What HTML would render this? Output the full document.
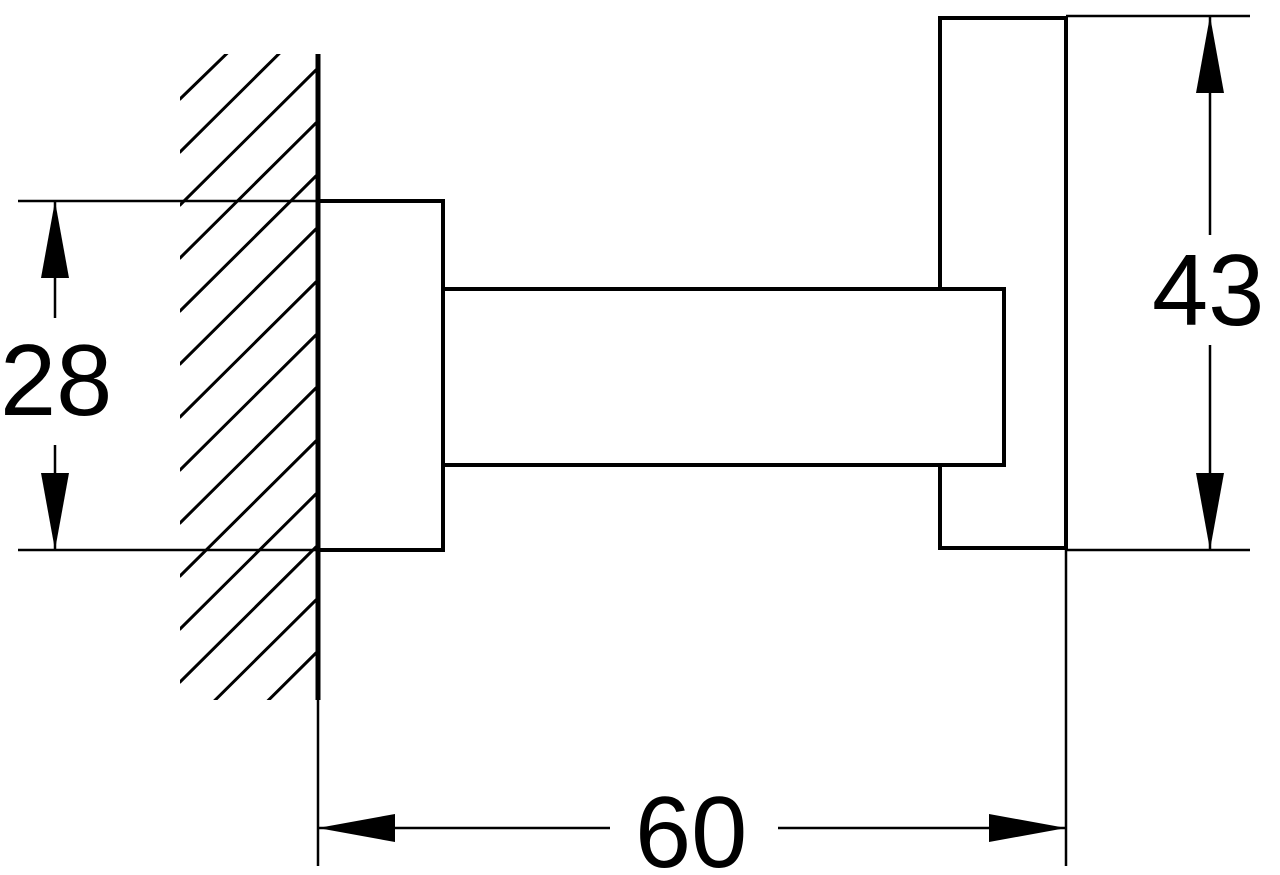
<!DOCTYPE html>
<html><head><meta charset="utf-8"><style>
html,body{margin:0;padding:0;background:#fff;}
svg{display:block;}
text{font-family:"Liberation Sans",sans-serif;font-size:101px;fill:#000;}
</style></head><body>
<svg width="1280" height="875" viewBox="0 0 1280 875" xmlns="http://www.w3.org/2000/svg">
<defs>
<clipPath id="hc"><rect x="180" y="54" width="136" height="646"/></clipPath>
</defs>
<g clip-path="url(#hc)" stroke="#000" stroke-width="3" stroke-linecap="round">
<line x1="180" y1="99" x2="316" y2="-33"/>
<line x1="180" y1="152" x2="316" y2="17"/>
<line x1="180" y1="205" x2="316" y2="70"/>
<line x1="180" y1="258" x2="316" y2="123"/>
<line x1="180" y1="311" x2="316" y2="176"/>
<line x1="180" y1="364" x2="316" y2="229"/>
<line x1="180" y1="417" x2="316" y2="282"/>
<line x1="180" y1="470" x2="316" y2="335"/>
<line x1="180" y1="523" x2="316" y2="388"/>
<line x1="180" y1="576" x2="316" y2="441"/>
<line x1="180" y1="629" x2="316" y2="494"/>
<line x1="180" y1="682" x2="316" y2="547"/>
<line x1="180" y1="735" x2="316" y2="600"/>
<line x1="180" y1="788" x2="316" y2="653"/>
<line x1="180" y1="841" x2="316" y2="706"/>
</g>
<g stroke="#000" fill="none">
<line x1="318" y1="54" x2="318" y2="700" stroke-width="5"/>
<polyline points="318,201 443,201 443,550 318,550" stroke-width="4"/>
<polyline points="443,289 1004,289 1004,465 443,465" stroke-width="4"/>
<polyline points="940,289 940,18 1066,18 1066,548 940,548 940,465" stroke-width="4"/>
<!-- 28 dim -->
<line x1="18" y1="201" x2="318" y2="201" stroke-width="2.5"/>
<line x1="18" y1="550" x2="318" y2="550" stroke-width="2.5"/>
<line x1="55" y1="201" x2="55" y2="318" stroke-width="2.5"/>
<line x1="55" y1="445" x2="55" y2="550" stroke-width="2.5"/>
<!-- 43 dim -->
<line x1="1066" y1="16" x2="1250" y2="16" stroke-width="2.5"/>
<line x1="1066" y1="550" x2="1250" y2="550" stroke-width="2.5"/>
<line x1="1210" y1="16" x2="1210" y2="235" stroke-width="2.5"/>
<line x1="1210" y1="345" x2="1210" y2="550" stroke-width="2.5"/>
<!-- 60 dim -->
<line x1="318" y1="700" x2="318" y2="866" stroke-width="2.5"/>
<line x1="1066" y1="550" x2="1066" y2="866" stroke-width="2.5"/>
<line x1="318" y1="828" x2="610" y2="828" stroke-width="2.5"/>
<line x1="778" y1="828" x2="1066" y2="828" stroke-width="2.5"/>
</g>
<g fill="#000">
<polygon points="55,201 41,278 69,278"/>
<polygon points="55,550 41,473 69,473"/>
<polygon points="1210,16 1196,93 1224,93"/>
<polygon points="1210,550 1196,473 1224,473"/>
<polygon points="318,828 395,814 395,842"/>
<polygon points="1066,828 989,814 989,842"/>
</g>
<text x="0" y="415">28</text>
<text x="1152" y="325">43</text>
<text x="635" y="867">60</text>
</svg>
</body></html>
